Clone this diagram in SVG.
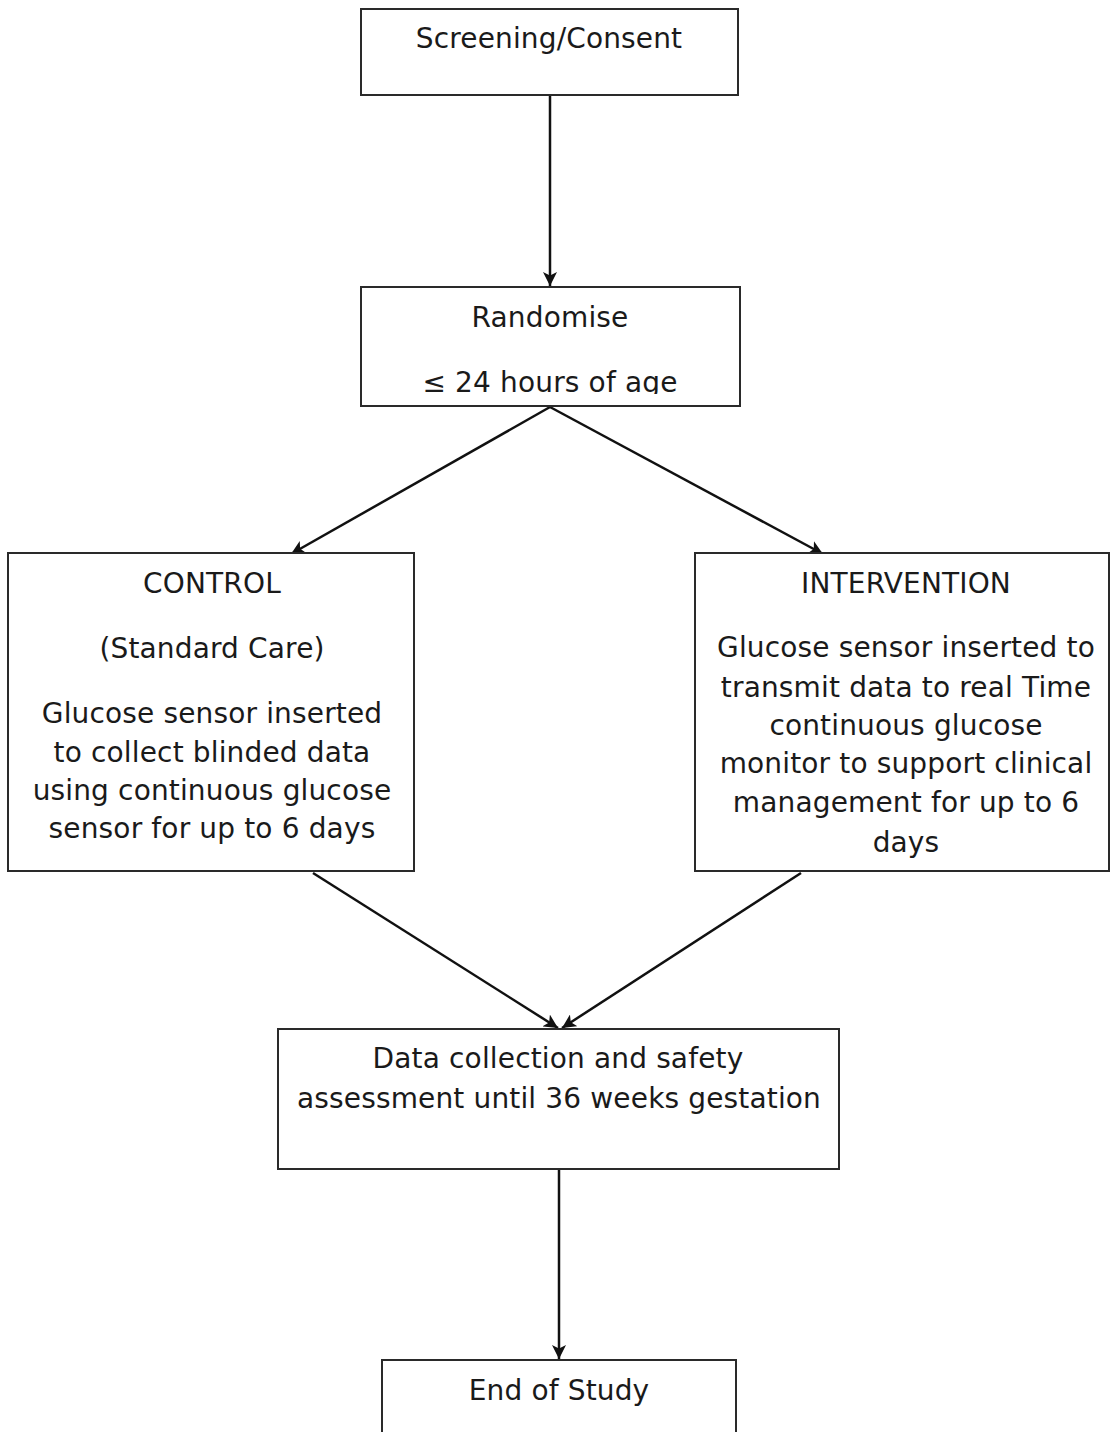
<svg xmlns="http://www.w3.org/2000/svg" width="1110" height="1432" viewBox="0 0 1110 1432">
<style>
.box{fill:#fff;stroke:#2a2a2a;stroke-width:2}
.t{font-family:"DejaVu Sans",Verdana,sans-serif;font-size:28px;letter-spacing:0.15px;fill:#1a1a1a;text-anchor:middle}
.c{fill:none;stroke:#111;stroke-width:2.5}
</style>
<defs>
<marker id="ah" markerWidth="14" markerHeight="14" refX="10" refY="5" orient="auto" markerUnits="userSpaceOnUse" viewBox="0 0 10 10">
<path d="M0,0 L10,5 L0,10 L2.5,5 Z" fill="#111"/>
</marker>
<clipPath id="clipR"><rect x="361" y="287" width="380" height="107"/></clipPath>
</defs>
<rect width="1110" height="1432" fill="#fff"/>
<g id="connectors">
<line class="c" x1="550" y1="95" x2="550" y2="286" marker-end="url(#ah)"/>
<line class="c" x1="550" y1="407" x2="291" y2="554" marker-end="url(#ah)"/>
<line class="c" x1="550" y1="407" x2="823" y2="554" marker-end="url(#ah)"/>
<line class="c" x1="313" y1="873" x2="558" y2="1028" marker-end="url(#ah)"/>
<line class="c" x1="801" y1="873" x2="562" y2="1028" marker-end="url(#ah)"/>
<line class="c" x1="559" y1="1169" x2="559" y2="1359" marker-end="url(#ah)"/>
</g>
<g id="screening">
<rect class="box" x="361" y="9" width="377" height="86"/>
<text class="t" x="549" y="48">Screening/Consent</text>
</g>
<g id="randomise">
<rect class="box" x="361" y="287" width="379" height="119"/>
<text class="t" x="550" y="327">Randomise</text>
<text class="t" x="550" y="392" clip-path="url(#clipR)">≤ 24 hours of age</text>
</g>
<g id="control">
<rect class="box" x="8" y="553" width="406" height="318"/>
<text class="t" x="212" y="593">CONTROL</text>
<text class="t" x="212" y="658">(Standard Care)</text>
<text class="t" x="212" y="723">Glucose sensor inserted</text>
<text class="t" x="212" y="762">to collect blinded data</text>
<text class="t" x="212" y="800">using continuous glucose</text>
<text class="t" x="212" y="838">sensor for up to 6 days</text>
</g>
<g id="intervention">
<rect class="box" x="695" y="553" width="414" height="318"/>
<text class="t" x="906" y="593">INTERVENTION</text>
<text class="t" x="906" y="657">Glucose sensor inserted to</text>
<text class="t" x="906" y="697">transmit data to real Time</text>
<text class="t" x="906" y="735">continuous glucose</text>
<text class="t" x="906" y="773">monitor to support clinical</text>
<text class="t" x="906" y="812">management for up to 6</text>
<text class="t" x="906" y="852">days</text>
</g>
<g id="datacollection">
<rect class="box" x="278" y="1029" width="561" height="140"/>
<text class="t" x="558" y="1068">Data collection and safety</text>
<text class="t" x="559" y="1108">assessment until 36 weeks gestation</text>
</g>
<g id="endofstudy">
<rect class="box" x="382" y="1360" width="354" height="90"/>
<text class="t" x="559" y="1400">End of Study</text>
</g>
</svg>
